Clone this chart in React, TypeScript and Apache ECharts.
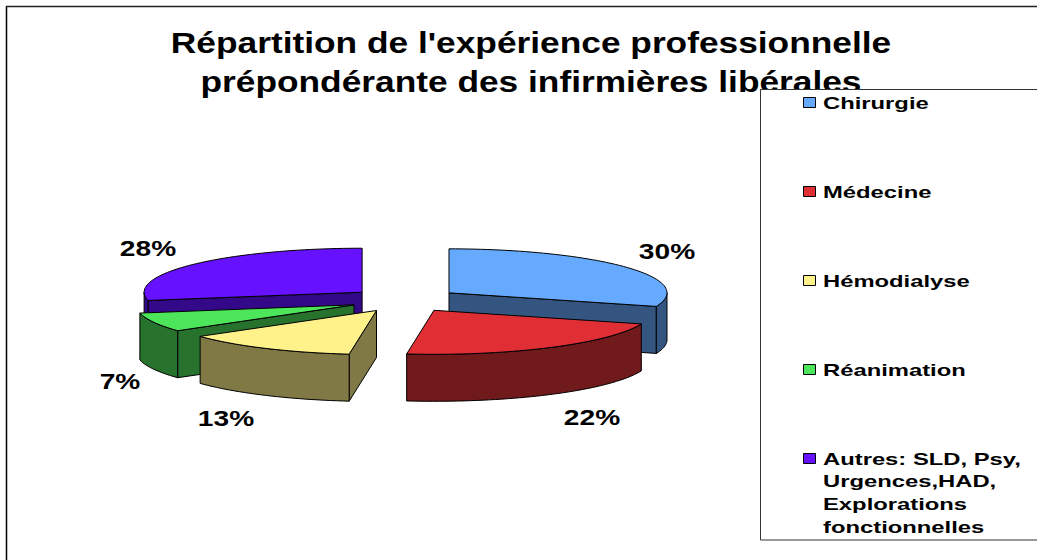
import React, { useEffect, useRef } from "react";
import * as echarts from "echarts";

const titleLines = ["Répartition de l'expérience professionnelle", "prépondérante des infirmières libérales"];
const categories = ["Chirurgie", "Médecine", "Hémodialyse", "Réanimation", "Autres: SLD, Psy,\nUrgences,HAD,\nExplorations\nfonctionnelles"];
const percents = [30, 22, 13, 7, 28];
const topColors = ["#66AAFF", "#E02E35", "#FFF28A", "#4DE65A", "#6611FF"];
const wallColors = ["#335580", "#701A1C", "#807945", "#27732D", "#33098A"];
const drawOrder = [4, 0, 3, 2, 1];
const labelPositions = [[667, 251], [592, 417], [226, 418], [120, 381], [148, 248]];
const legendRows = [103, 192, 281, 370, 459];

const cx = 404.5, cy = 300, rx = 218, ry = 44, depth = 47, explodeX = 55, explodeY = 12.2;
const FONT = "Liberation Sans";

function renderSlice(i: number) {
  const before = percents.slice(0, i).reduce((a, b) => a + b, 0);
  const a0 = (before / 100) * Math.PI * 2;
  const a1 = ((before + percents[i]) / 100) * Math.PI * 2;
  const mid = (a0 + a1) / 2;
  const ox = cx + explodeX * Math.sin(mid);
  const oy = cy - explodeY * Math.cos(mid);
  const pt = (a: number, dy = 0) => [ox + rx * Math.sin(a), oy - ry * Math.cos(a) + dy];
  const arc = (s: number, e: number, dy = 0) => {
    const n = Math.max(2, Math.ceil(Math.abs(e - s) / 0.03));
    const out: number[][] = [];
    for (let k = 0; k <= n; k++) out.push(pt(s + ((e - s) * k) / n, dy));
    return out;
  };
  const wall = { fill: wallColors[i], stroke: "#000", lineWidth: 1 };
  const children: any[] = [];
  const radialWall = (a: number) => children.push({
    type: "polygon",
    shape: { points: [[ox, oy], pt(a), pt(a, depth), [ox, oy + depth]] },
    style: wall,
  });
  if (a0 > Math.PI && a0 < 2 * Math.PI) radialWall(a0);
  if (a1 > 0 && a1 < Math.PI) radialWall(a1);
  const ws = Math.max(a0, Math.PI / 2);
  const we = Math.min(a1, (3 * Math.PI) / 2);
  if (we > ws) {
    children.push({
      type: "polygon",
      shape: { points: [...arc(ws, we), ...arc(we, ws, depth)] },
      style: wall,
    });
  }
  children.push({
    type: "polygon",
    shape: { points: [[ox, oy], ...arc(a0, a1)] },
    style: { fill: topColors[i], stroke: "#000", lineWidth: 1 },
  });
  children.push({
    type: "text",
    x: labelPositions[i][0],
    y: labelPositions[i][1],
    scaleX: 1.25,
    style: {
      text: `${percents[i]}%`, x: 0, y: 0,
      fill: "#000", font: `bold 22.5px "${FONT}"`, align: "center", verticalAlign: "middle",
    },
  });
  return { type: "group", children };
}

export default function App() {
  const ref = useRef<HTMLDivElement>(null);
  useEffect(() => {
    document.body.style.margin = "0";
    document.body.style.background = "#fff";
    const chart = echarts.init(ref.current!, undefined, { renderer: "svg" });
    chart.setOption({
      animation: false,
      backgroundColor: "#fff",
      series: drawOrder.map((idx, n) => ({
        type: "custom",
        coordinateSystem: "none",
        silent: true,
        z: 2 + n,
        renderItem: () => renderSlice(idx),
        data: [[percents[idx]]],
      })),
      graphic: [
        { type: "line", z: 0, shape: { x1: 6.5, y1: 6, x2: 6.5, y2: 560 }, style: { stroke: "#000", lineWidth: 1.5 } },
        { type: "line", z: 0, shape: { x1: 6, y1: 6.5, x2: 1037, y2: 6.5 }, style: { stroke: "#222", lineWidth: 1.5 } },
        ...titleLines.map((t, i) => ({
          type: "text", z: 1, x: 531, y: 43 + i * 39, scaleX: 1.217, scaleY: 1,
          style: { text: t, fill: "#000", font: `bold 29px "${FONT}"`, align: "center", verticalAlign: "middle" },
        })),
        { type: "rect", z: 10, shape: { x: 760.5, y: 89.5, width: 400, height: 450.5 }, style: { fill: "#fff", stroke: "#333", lineWidth: 1 } },
        ...categories.flatMap((c, i) => [
          { type: "rect", z: 11, shape: { x: 803.5, y: legendRows[i] - 5.5, width: 12, height: 10 }, style: { fill: topColors[i], stroke: "#000", lineWidth: 1 } },
          {
            type: "text", z: 11, x: 823, y: legendRows[i] - 12, scaleX: 1.4, scaleY: 1,
            style: { text: c, fill: "#000", font: `bold 17px "${FONT}"`, align: "left", verticalAlign: "top", lineHeight: 22.7 },
          },
        ]),
      ],
    });
    return () => chart.dispose();
  }, []);
  return <div ref={ref} style={{ width: 1037, height: 560 }} />;
}
